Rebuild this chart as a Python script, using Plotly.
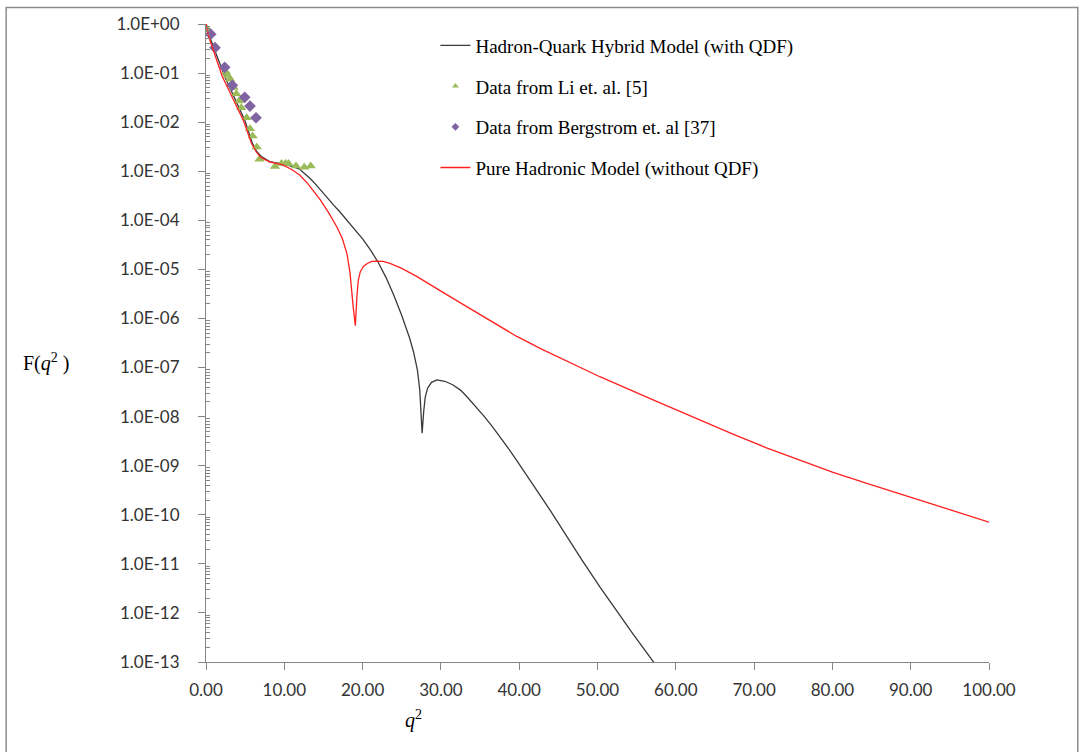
import plotly.graph_objects as go

# Hadron-Quark Hybrid Model (with QDF)
hyb_q2 = [0, 0.47, 1.2, 2.39, 3.5, 4.95, 5.93, 6.5, 7.07, 8.13, 9.84, 11.0, 11.97, 13.3, 14.1,
          15.6, 16.3, 17.0, 18.0, 19.0, 20.0, 21.0, 22.0, 23.0, 24.0, 25.0, 26.0, 26.5, 27.0,
          27.3, 27.45, 27.6, 27.8, 28.0, 28.3, 28.8, 29.5, 30.5, 31.5, 32.5, 33.3, 34.5, 35.5,
          36.5, 37.5, 38.5, 39.5, 40.5, 41.8, 44.0, 46.0, 48.0, 50.3, 52.5, 54.5, 57.3, 60.0]
hyb_F = [1.0, 0.55, 0.27, 0.085, 0.035, 0.011, 3.7e-3, 2.5e-3, 2.0e-3, 1.57e-3, 1.40e-3, 1.26e-3,
         1.10e-3, 7.1e-4, 5.2e-4, 2.7e-4, 2.04e-4, 1.55e-4, 1.02e-4, 6.6e-5, 4.2e-5, 2.5e-5,
         1.38e-5, 6.8e-6, 2.95e-6, 1.15e-6, 4.0e-7, 2.1e-7, 8.9e-8, 3.5e-8, 1.6e-8, 4.6e-9,
         1.26e-8, 2.5e-8, 3.8e-8, 5.0e-8, 5.6e-8, 5.25e-8, 4.47e-8, 3.47e-8, 2.57e-8, 1.58e-8,
         1.02e-8, 6.5e-9, 4.0e-9, 2.4e-9, 1.41e-9, 8.3e-10, 4.0e-10, 1.2e-10, 3.7e-11, 1.2e-11,
         3.4e-12, 1.07e-12, 3.8e-13, 9.3e-14, 2.5e-14]

# Pure Hadronic Model (without QDF)
had_q2 = [0, 0.35, 1.2, 2.08, 3.4, 4.76, 5.8, 6.4, 7.0, 8.1, 9.8, 11.0, 12.0, 13.0, 14.6, 15.7,
          16.7, 17.4, 18.0, 18.4, 18.8, 19.07, 19.3, 19.45, 19.7, 20.1, 20.6, 21.2, 21.8, 22.6,
          23.5, 25.0, 26.9, 28.5, 30.0, 33.3, 36.5, 39.7, 42.8, 45.8, 50.3, 57.1, 62.0, 67.3,
          71.5, 75.8, 80.0, 84.3, 88.5, 92.9, 96.5, 100.0]
had_F = [1.0, 0.55, 0.22, 0.085, 0.031, 0.011, 3.7e-3, 2.5e-3, 1.9e-3, 1.55e-3, 1.35e-3, 1.07e-3,
         8.3e-4, 5.6e-4, 2.6e-4, 1.4e-4, 7.4e-5, 4.3e-5, 2.1e-5, 8.3e-6, 1.7e-6, 7.1e-7, 3.2e-6,
         6.0e-6, 8.9e-6, 1.15e-5, 1.32e-5, 1.45e-5, 1.48e-5, 1.45e-5, 1.32e-5, 1.05e-5, 7.2e-6,
         5.1e-6, 3.6e-6, 1.74e-6, 8.5e-7, 4.3e-7, 2.4e-7, 1.41e-7, 6.5e-8, 2.2e-8, 1.0e-8,
         4.4e-9, 2.34e-9, 1.29e-9, 7.4e-10, 4.4e-10, 2.7e-10, 1.66e-10, 1.07e-10, 7.1e-11]

# Data from Li et. al. [5]
li_q2 = [0.18, 2.55, 2.77, 3.10, 3.54, 3.87, 4.21, 4.51, 5.20, 5.62, 5.96, 6.48, 6.83, 8.81,
         9.64, 10.15, 10.54, 11.49, 12.55, 13.37]
li_F = [0.78, 0.105, 0.089, 0.075, 0.051, 0.038, 0.027, 0.0197, 0.0123, 7.3e-3, 5.2e-3, 3.1e-3,
        1.75e-3, 1.25e-3, 1.44e-3, 1.44e-3, 1.44e-3, 1.28e-3, 1.20e-3, 1.28e-3]

# Data from Bergstrom et. al [37]
berg_q2 = [0.60, 1.15, 2.39, 3.36, 4.94, 5.62, 6.39]
berg_F = [0.62, 0.33, 0.131, 0.0564, 0.0321, 0.0213, 0.0123]

names = ["Hadron-Quark Hybrid Model (with QDF)", "Data from Li et. al. [5]",
         "Data from Bergstrom et. al [37]", "Pure Hadronic Model (without QDF)"]

ytick_exps = list(range(0, -14, -1))
ytick_text = ["1.0E+00" if e == 0 else "1.0E-%02d" % (-e) for e in ytick_exps]
xtick_vals = list(range(0, 101, 10))
xtick_text = ["%.2f" % v for v in xtick_vals]

BLACK = "#3a3a3a"
RED = "#FF2020"
GREEN = "#9BBB59"
PURPLE = "#8064A2"

fig = go.Figure()
fig.add_trace(go.Scatter(x=hyb_q2, y=hyb_F, mode="lines", showlegend=False,
                         line=dict(color=BLACK, width=1.3)))
fig.add_trace(go.Scatter(x=li_q2, y=li_F, mode="markers", showlegend=False,
                         marker=dict(symbol="triangle-up", color=GREEN, size=9)))
fig.add_trace(go.Scatter(x=berg_q2, y=berg_F, mode="markers", showlegend=False,
                         marker=dict(symbol="diamond", color=PURPLE, size=9)))
fig.add_trace(go.Scatter(x=had_q2, y=had_F, mode="lines", showlegend=False,
                         line=dict(color=RED, width=1.3)))

# legend entries
fig.add_trace(go.Scatter(x=[None], y=[None], mode="lines", name=names[0],
                         line=dict(color=BLACK, width=1.3), legendgroup="a"))
fig.add_trace(go.Scatter(x=[None], y=[None], mode="markers", name=names[1],
                         marker=dict(symbol="triangle-up", color=GREEN, size=6), legendgroup="b"))
fig.add_trace(go.Scatter(x=[None], y=[None], mode="markers", name=names[2],
                         marker=dict(symbol="diamond", color=PURPLE, size=6), legendgroup="c"))
fig.add_trace(go.Scatter(x=[None], y=[None], mode="lines", name=names[3],
                         line=dict(color=RED, width=1.3), legendgroup="d"))

minor_vals = [m * 10.0 ** e for e in range(-13, 0) for m in range(2, 10)]

fig.update_layout(
    width=1081, height=752,
    margin=dict(l=206, r=92, t=24, b=90),
    paper_bgcolor="white", plot_bgcolor="white",
    showlegend=True,
    legend=dict(x=0.293, y=0.996, xanchor="left", yanchor="top",
                font=dict(family="Liberation Serif", size=19, color="#000000"),
                bgcolor="rgba(0,0,0,0)", tracegroupgap=13),
    xaxis=dict(range=[0, 100], tickmode="array", tickvals=xtick_vals, ticktext=xtick_text,
               showgrid=False, zeroline=False, showline=True, linecolor="#868686", linewidth=1,
               ticks="outside", ticklen=7, tickcolor="#868686",
               tickfont=dict(family="Lato", size=17, color="#333333"), ticklabelstandoff=6),
    yaxis=dict(type="log", range=[-13, 0], tickmode="array",
               tickvals=[10.0 ** e for e in ytick_exps], ticktext=ytick_text,
               showgrid=False, zeroline=False, showline=True, linecolor="#868686", linewidth=1,
               ticks="outside", ticklen=7, tickcolor="#868686",
               tickfont=dict(family="Lato", size=17, color="#333333"), ticklabelstandoff=15,
               minor=dict(tickmode="array", tickvals=minor_vals, ticks="inside", ticklen=4,
                          tickcolor="#868686", showgrid=False)),
    annotations=[
        dict(text="F(<i>q</i><sup>2</sup> )", xref="paper", yref="paper", x=-0.236, y=0.47,
             xanchor="left", yanchor="middle", showarrow=False,
             font=dict(family="Liberation Serif", size=20, color="#000000")),
        dict(text="<i>q</i><sup>2</sup>", xref="paper", yref="paper", x=0.265, y=-0.09,
             xanchor="center", yanchor="middle", showarrow=False,
             font=dict(family="Liberation Serif", size=20, color="#000000")),
    ],
    shapes=[dict(type="rect", xref="paper", yref="paper", x0=-0.2552, x1=1.1134, y0=-0.16, y1=1.0259,
                 line=dict(color="#8c8c8c", width=1.5), fillcolor="rgba(0,0,0,0)", layer="below")],
)

fig.write_html("out.html", config={"displayModeBar": False},
               post_script="document.body.style.margin='0';")
